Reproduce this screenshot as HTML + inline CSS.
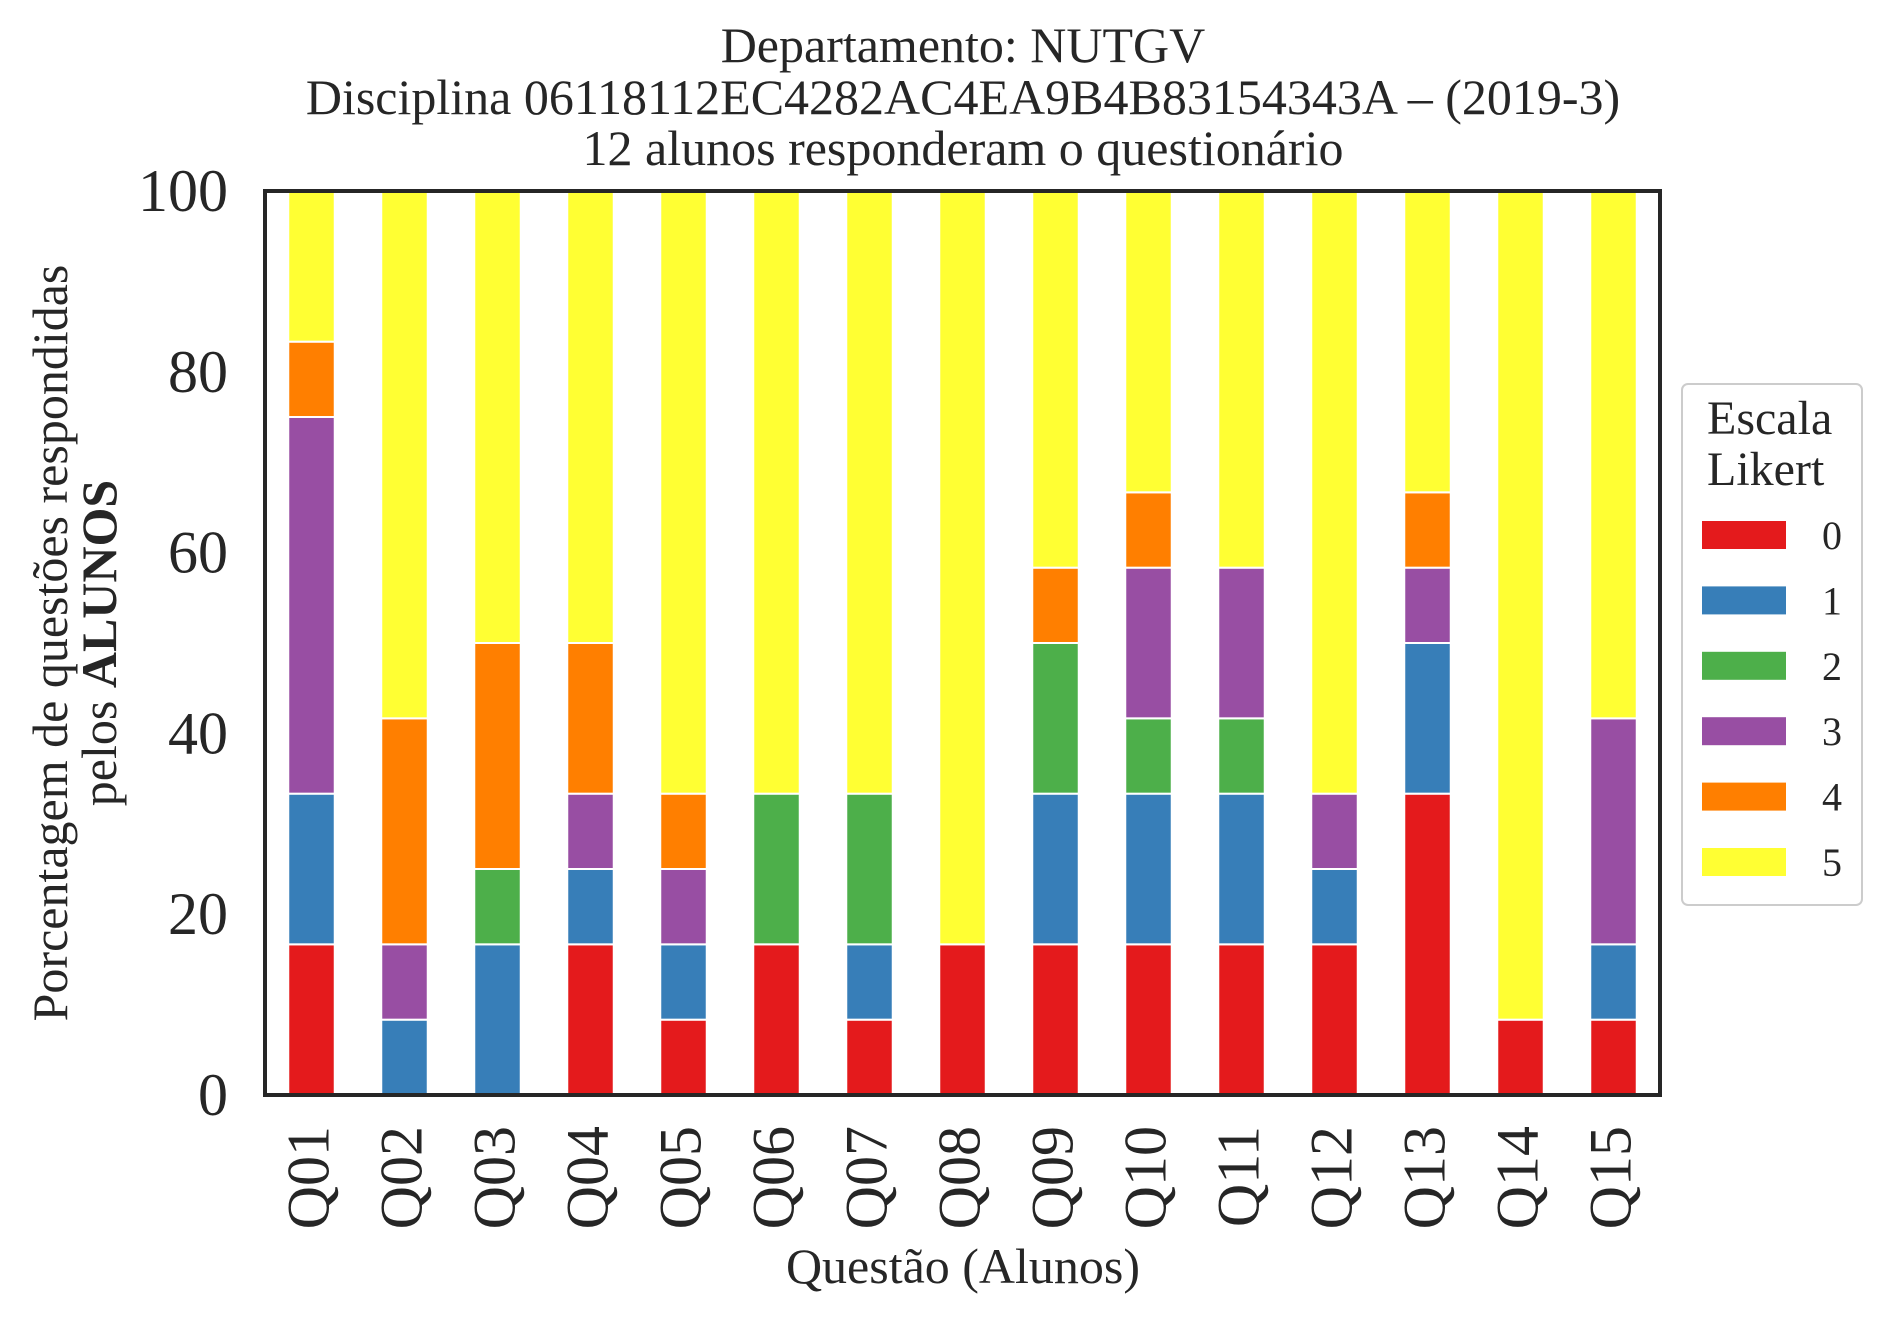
<!DOCTYPE html>
<html><head><meta charset="utf-8"><style>
html,body{margin:0;padding:0;background:#fff;}
svg text{font-family:"Liberation Serif",serif;fill:#262626;}
</style></head><body>
<svg id="chart" width="1892" height="1323" viewBox="0 0 1892 1323" xmlns="http://www.w3.org/2000/svg">
<g>
<text x="963" y="62" font-size="50" text-anchor="middle">Departamento: NUTGV</text>
<text x="963" y="114" font-size="50" text-anchor="middle">Disciplina 06118112EC4282AC4EA9B4B83154343A – (2019-3)</text>
<text x="963" y="165" font-size="50" text-anchor="middle">12 alunos responderam o questionário</text>
</g>
<g id="bars"></g>
<g id="yticks"></g>
<g id="xticks"></g>
<rect x="265" y="191" width="1395" height="904" fill="none" stroke="#262626" stroke-width="4"/>
<g font-size="50">
<text transform="translate(67,643) rotate(-90)" text-anchor="middle">Porcentagem de questões respondidas</text>
<text transform="translate(116,643) rotate(-90)" text-anchor="middle">pelos <tspan font-weight="bold">ALUNOS</tspan></text>
</g>
<text x="963" y="1283" font-size="50" text-anchor="middle">Questão (Alunos)</text>
<g>
<rect x="1682" y="384" width="180" height="521" rx="6" fill="#fff" stroke="#cccccc" stroke-width="2"/>
<text x="1707" y="434" font-size="48">Escala</text>
<text x="1707" y="485" font-size="48">Likert</text>
<g id="legend-entries"></g>
</g>
</svg>
<script>
const categories = ["Q01","Q02","Q03","Q04","Q05","Q06","Q07","Q08","Q09","Q10","Q11","Q12","Q13","Q14","Q15"];
const seriesNames = ["0","1","2","3","4","5"];
const s0 = [2,0,0,2,1,2,1,2,2,2,2,2,4,1,1];
const s1 = [2,1,2,1,1,0,1,0,2,2,2,1,2,0,1];
const s2 = [0,0,1,0,0,2,2,0,2,1,1,0,0,0,0];
const s3 = [5,1,0,1,1,0,0,0,0,2,2,1,1,0,3];
const s4 = [1,3,3,2,1,0,0,0,1,1,0,0,1,0,0];
const s5 = [2,7,6,6,8,8,8,10,5,4,5,8,4,11,7];
const yTicks = [0,20,40,60,80,100];
const colors = ["#e41a1c","#377eb8","#4daf4a","#984ea3","#ff7f00","#ffff33"];
const series = [s0,s1,s2,s3,s4,s5];
const NS = "http://www.w3.org/2000/svg";
const L=265,R=1660,T=191,B=1095;
const step=(R-L)/categories.length;
const xc=i=>L+step*(i+0.5);
const y=v=>B-(v/100)*(B-T);
const bw=step*0.5;
const bars=document.getElementById('bars');
categories.forEach((c,i)=>{
  const total=series.reduce((a,s)=>a+s[i],0);
  let cum=0;
  series.forEach((s,k)=>{
    if(s[i]<=0) return;
    const p0=cum/total*100, p1=(cum+s[i])/total*100; cum+=s[i];
    const r=document.createElementNS(NS,'rect');
    
    
    r.setAttribute('x',xc(i)-bw/2);r.setAttribute('width',bw);
    r.setAttribute('y',y(p1));r.setAttribute('height',y(p0)-y(p1));
    r.setAttribute('fill',colors[k]);r.setAttribute('stroke','#fff');r.setAttribute('stroke-width','2');
    bars.appendChild(r);
  });
  const t=document.createElementNS(NS,'text');
  
  
  t.setAttribute('transform','translate('+(xc(i)+17)+',1126) rotate(-90)');
  t.setAttribute('text-anchor','end');t.setAttribute('font-size','60');
  t.textContent=c;document.getElementById('xticks').appendChild(t);
});
yTicks.forEach(v=>{
  const t=document.createElementNS(NS,'text');
  
  
  t.setAttribute('x',228);t.setAttribute('y',y(v)+20);
  t.setAttribute('text-anchor','end');t.setAttribute('font-size','60');
  t.textContent=v;document.getElementById('yticks').appendChild(t);
});
const le=document.getElementById('legend-entries');
seriesNames.forEach((n,k)=>{
  const yy=535+k*65.4;
  const r=document.createElementNS(NS,'rect');
  
  
  r.setAttribute('x',1702);r.setAttribute('y',yy-14);r.setAttribute('width',84);r.setAttribute('height',28);
  r.setAttribute('fill',colors[k]);le.appendChild(r);
  const t=document.createElementNS(NS,'text');
  
  
  t.setAttribute('x',1832);t.setAttribute('y',yy+14);t.setAttribute('text-anchor','middle');t.setAttribute('font-size','40');
  t.textContent=n;le.appendChild(t);
});
</script>
</body></html>
